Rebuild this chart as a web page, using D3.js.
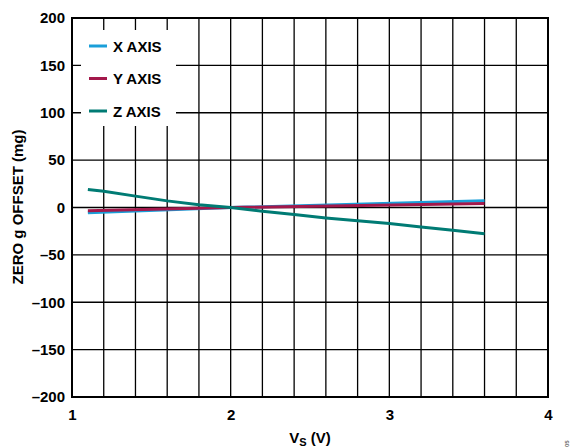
<!DOCTYPE html>
<html><head><meta charset="utf-8">
<script src="https://cdn.jsdelivr.net/npm/d3@7"></script>
<style>
html,body{margin:0;padding:0;background:#fff;}
svg text{font-family:"Liberation Sans",Arial,sans-serif;font-weight:bold;fill:#000;}
</style></head>
<body>
<svg id="chart" width="574" height="447"></svg>
<script>
const xTicks = [1, 2, 3, 4];
const yTicks = [-200, -150, -100, -50, 0, 50, 100, 150, 200];
const xGrid = [1.2,1.4,1.6,1.8,2,2.2,2.4,2.6,2.8,3,3.2,3.4,3.6,3.8];
const seriesNames = ["X AXIS", "Y AXIS", "Z AXIS"];
const seriesColors = ["#1a9fd9", "#a3184b", "#007b74"];
const vsX = [1.1, 2.0, 3.6];
const offX = [-5.5, 0, 7];
const vsY = [1.1, 2.0, 3.6];
const offY = [-3.5, 0, 4.2];
const vsZ = [1.1, 1.2, 1.4, 1.6, 1.8, 2.0, 2.2, 2.4, 2.6, 2.8, 3.0, 3.2, 3.4, 3.6];
const offZ = [19, 17.2, 12, 7, 3, 0, -4, -7.5, -11, -14, -17, -20.5, -24, -27.7];

const svg = d3.select("#chart");
const L = 72, R = 548, T = 18, B = 397;
const x = d3.scaleLinear().domain([1, 4]).range([L, R]);
const y = d3.scaleLinear().domain([-200, 200]).range([B, T]);
const FS = 15;

// grid
svg.append("g").selectAll("line").data(xGrid).join("line")
  .attr("x1", d => x(d)).attr("x2", d => x(d)).attr("y1", T).attr("y2", B)
  .attr("stroke", "#000").attr("stroke-width", 1.3);
svg.append("g").selectAll("line").data(yTicks).join("line")
  .attr("x1", L).attr("x2", R).attr("y1", d => y(d)).attr("y2", d => y(d))
  .attr("stroke", "#000").attr("stroke-width", 1.3);

// frame
svg.append("rect").attr("x", L).attr("y", T).attr("width", R - L).attr("height", B - T)
  .attr("fill", "none").attr("stroke", "#000").attr("stroke-width", 2);

// axes (labels)
const xAxis = d3.axisBottom(x).tickValues(xTicks).tickSize(0).tickPadding(12).tickFormat(d3.format("d"));
const gx = svg.append("g").attr("transform", `translate(0,${B})`).call(xAxis);
gx.select(".domain").remove();
gx.selectAll("text").attr("font-size", FS).attr("font-family", "Liberation Sans, Arial, sans-serif").attr("font-weight", "bold");

const yAxis = d3.axisLeft(y).tickValues(yTicks).tickSize(0).tickPadding(7)
  .tickFormat(d => d < 0 ? "\u2013" + Math.abs(d) : String(d));
const gy = svg.append("g").attr("transform", `translate(${L},0)`).call(yAxis);
gy.select(".domain").remove();
gy.selectAll("text").attr("font-size", FS).attr("font-family", "Liberation Sans, Arial, sans-serif").attr("font-weight", "bold");

// lines
const line = d3.line().x(d => x(d[0])).y(d => y(d[1]));
const data = [
  d3.zip(vsX, offX),
  d3.zip(vsY, offY),
  d3.zip(vsZ, offZ)
];
svg.append("g").selectAll("path").data(data).join("path")
  .attr("d", line).attr("fill", "none")
  .attr("stroke", (d, i) => seriesColors[i]).attr("stroke-width", 3);

// legend
svg.append("rect").attr("x", 81).attr("y", 30).attr("width", 95).attr("height", 96).attr("fill", "#fff");
const lg = svg.append("g").selectAll("g").data(seriesNames).join("g")
  .attr("transform", (d, i) => `translate(89,${46 + i * 32.5})`);
lg.append("line").attr("x1", 0).attr("x2", 18).attr("y1", 0).attr("y2", 0)
  .attr("stroke", (d, i) => seriesColors[i]).attr("stroke-width", 3);
lg.append("text").attr("x", 24).attr("y", 5.5).attr("font-size", FS).text(d => d);

// axis titles
svg.append("text").attr("transform", "translate(23,207) rotate(-90)")
  .attr("text-anchor", "middle").attr("font-size", FS).text("ZERO g OFFSET (mg)");
const xt = svg.append("text").attr("x", 310).attr("y", 443).attr("text-anchor", "middle").attr("font-size", FS);
xt.append("tspan").text("V");
xt.append("tspan").attr("font-size", 11).attr("dy", 3).text("S");
xt.append("tspan").attr("dy", -3).text(" (V)");

// figure id
svg.append("text").attr("transform", "translate(569,447) rotate(-90)")
  .attr("font-size", 6).attr("font-weight", "normal").style("fill", "#666").text("05");
</script>
</body></html>
